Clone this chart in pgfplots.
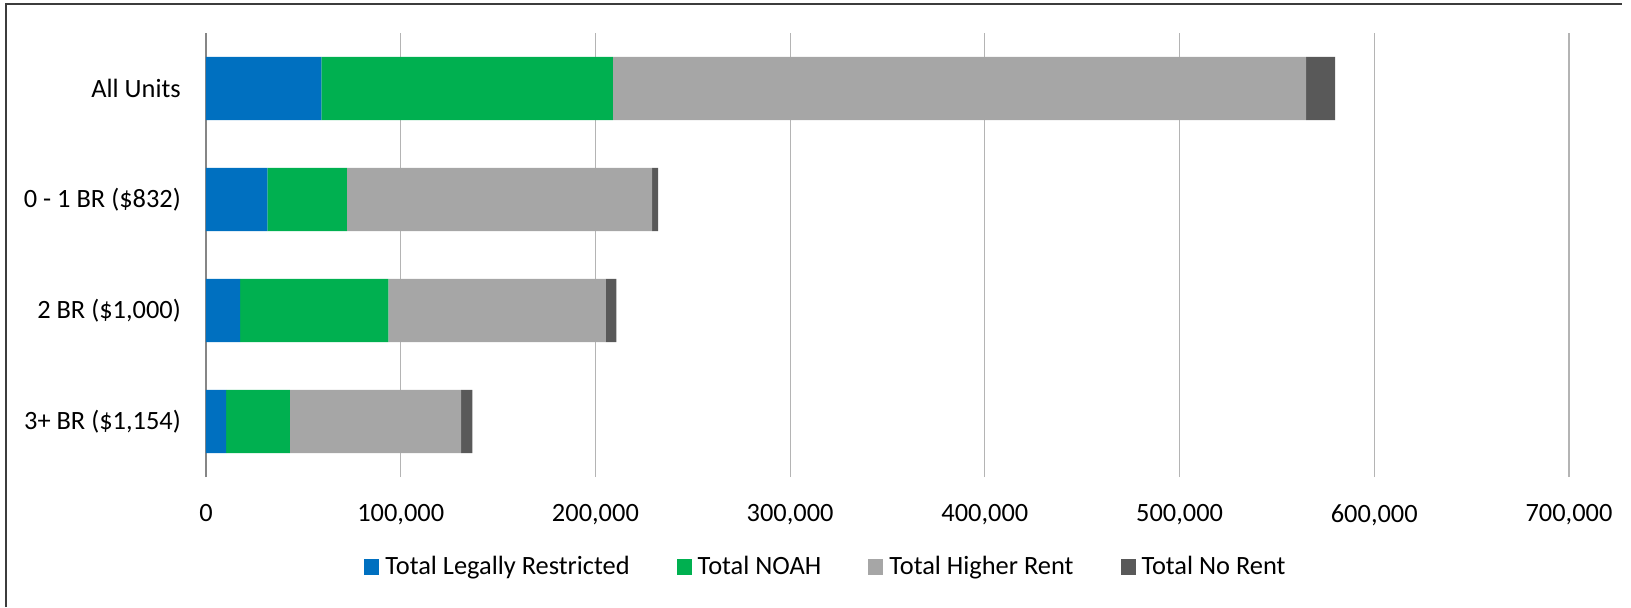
\documentclass[border=0pt]{standalone}
\usepackage{pgfplots}
\pgfplotsset{compat=1.18}
\usepackage{fontspec}
\setmainfont{Carlito}
\definecolor{cBlue}{HTML}{0070C0}
\definecolor{cGreen}{HTML}{00B050}
\definecolor{cGray}{HTML}{A6A6A6}
\definecolor{cDark}{HTML}{595959}
\definecolor{cGrid}{RGB}{180,180,180}
\definecolor{cAxis}{RGB}{134,134,134}
\definecolor{cFrame}{RGB}{60,60,60}
\begin{document}
\fontsize{13.2pt}{16pt}\selectfont
\begin{tikzpicture}
\useasboundingbox (-103pt,-65pt) rectangle (712.5pt,238.5pt);
\draw[cFrame, line width=0.85pt] (-100pt,-65pt) -- (-100pt,236.5pt) -- (708pt,236.5pt);
\begin{axis}[
  at={(0,0)}, anchor=south west,
  scale only axis, width=681.5pt, height=222pt,
  xbar stacked, bar width=0.57,
  xmin=0, xmax=700000, ymin=-0.5, ymax=3.5,
  xtick={0,100000,200000,300000,400000,500000,600000,700000},
  xticklabels={0,{100,000},{200,000},{300,000},{400,000},{500,000},{600,000},{700,000}},
  scaled x ticks=false,
  ytick={0,1,2,3},
  yticklabels={{3+ BR (\$1,154)},{2 BR (\$1,000)},{0 - 1 BR (\$832)},{All Units}},
  major tick length=0pt,
  axis line style={draw=none},
  xmajorgrids, grid style={cGrid, line width=0.6pt},
  extra x ticks={0}, extra x tick labels={},
  extra x tick style={grid style={cAxis, line width=0.9pt}},
  xticklabel style={yshift=-9pt},
  yticklabel style={xshift=-8pt},
  legend columns=4,
  legend style={draw=none, fill=none, at={(0.4556,-0.2027)}, anchor=center,
    /tikz/every odd column/.append style={column sep=1pt},
    /tikz/every even column/.append style={column sep=21.5pt}},
  legend image code/.code={\fill[#1] (0pt,-4pt) rectangle (7.5pt,4pt);},
]
\addplot[fill=cBlue, draw=none] coordinates {(10400,0) (17500,1) (31500,2) (59200,3)};
\addplot[fill=cGreen, draw=none] coordinates {(32700,0) (76100,1) (40900,2) (149800,3)};
\addplot[fill=cGray, draw=none] coordinates {(87900,0) (111800,1) (156700,2) (356000,3)};
\addplot[fill=cDark, draw=none] coordinates {(5800,0) (5300,1) (3100,2) (14900,3)};
\legend{Total Legally Restricted, Total NOAH, Total Higher Rent, Total No Rent}
\end{axis}
\end{tikzpicture}
\end{document}
